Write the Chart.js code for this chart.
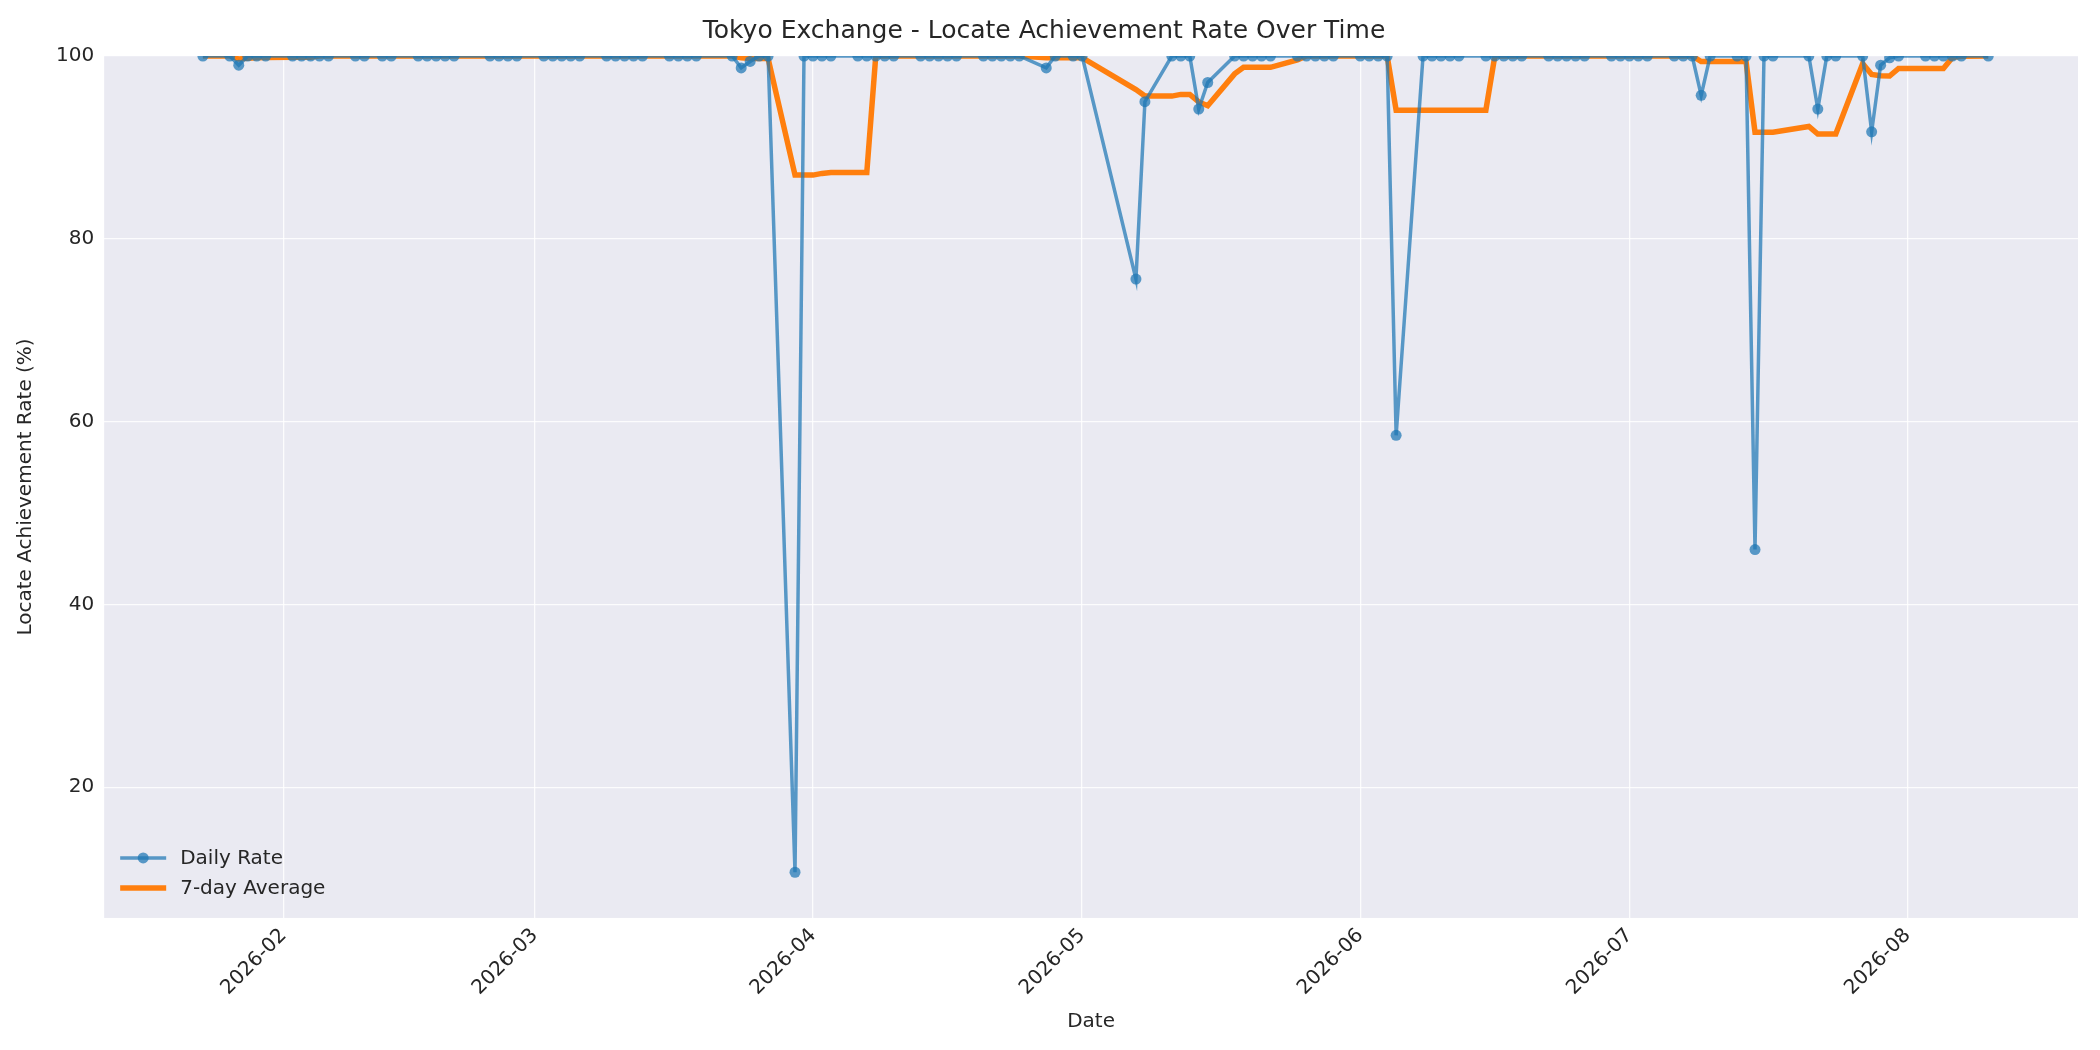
<!DOCTYPE html>
<html>
<head>
<meta charset="utf-8">
<script src="https://cdn.jsdelivr.net/npm/chart.js@4.4.1/dist/chart.umd.min.js"></script>
<style>
  html, body { margin: 0; padding: 0; background: #fff; }
  #wrap { width: 2100px; height: 1050px; }
</style>
</head>
<body>
<div id="wrap"><canvas id="chart"></canvas></div>
<script>
// Días hábiles con dato (Tokio), y la tasa diaria
const fechas = [
  '2026-01-23','2026-01-26','2026-01-27','2026-01-28','2026-01-29','2026-01-30',
  '2026-02-02','2026-02-03','2026-02-04','2026-02-05','2026-02-06','2026-02-09','2026-02-10','2026-02-12','2026-02-13',
  '2026-02-16','2026-02-17','2026-02-18','2026-02-19','2026-02-20','2026-02-24','2026-02-25','2026-02-26','2026-02-27',
  '2026-03-02','2026-03-03','2026-03-04','2026-03-05','2026-03-06','2026-03-09','2026-03-10','2026-03-11','2026-03-12','2026-03-13',
  '2026-03-16','2026-03-17','2026-03-18','2026-03-19','2026-03-23','2026-03-24','2026-03-25','2026-03-26','2026-03-27','2026-03-30','2026-03-31',
  '2026-04-01','2026-04-02','2026-04-03','2026-04-06','2026-04-07','2026-04-08','2026-04-09','2026-04-10','2026-04-13','2026-04-14',
  '2026-04-15','2026-04-16','2026-04-17','2026-04-20','2026-04-21','2026-04-22','2026-04-23','2026-04-24','2026-04-27','2026-04-28','2026-04-30',
  '2026-05-01','2026-05-07','2026-05-08','2026-05-11','2026-05-12','2026-05-13','2026-05-14','2026-05-15','2026-05-18',
  '2026-05-19','2026-05-20','2026-05-21','2026-05-22','2026-05-25','2026-05-26','2026-05-27','2026-05-28','2026-05-29',
  '2026-06-01','2026-06-02','2026-06-03','2026-06-04','2026-06-05','2026-06-08','2026-06-09','2026-06-10','2026-06-11','2026-06-12',
  '2026-06-15','2026-06-16','2026-06-17','2026-06-18','2026-06-19','2026-06-22','2026-06-23','2026-06-24','2026-06-25','2026-06-26','2026-06-29','2026-06-30',
  '2026-07-01','2026-07-02','2026-07-03','2026-07-06','2026-07-07','2026-07-08','2026-07-09','2026-07-10','2026-07-13','2026-07-14','2026-07-15',
  '2026-07-16','2026-07-17','2026-07-21','2026-07-22','2026-07-23','2026-07-24','2026-07-27','2026-07-28','2026-07-29','2026-07-30','2026-07-31',
  '2026-08-03','2026-08-04','2026-08-05','2026-08-06','2026-08-07','2026-08-10'
];
const tasaDiaria = [
  100,100,99.0,100,100,100,
  100,100,100,100,100,100,100,100,100,
  100,100,100,100,100,100,100,100,100,
  100,100,100,100,100,100,100,100,100,100,
  100,100,100,100,100,98.7,99.4,100,100,10.7,100,
  100,100,100,100,100,100,100,100,100,100,
  100,100,100,100,100,100,100,100,98.7,100,100,
  100,75.6,95.0,100,100,100,94.2,97.1,100,
  100,100,100,100,100,100,100,100,100,
  100,100,100,100,58.5,100,100,100,100,100,
  100,100,100,100,100,100,100,100,100,100,100,100,
  100,100,100,100,100,100,95.7,100,100,100,46.0,
  100,100,100,94.2,100,100,100,91.7,99.0,99.8,100,
  100,100,100,100,100,100
];
const marcasMes = ['2026-02-01','2026-03-01','2026-04-01','2026-05-01','2026-06-01','2026-07-01','2026-08-01'];
const marcasY = [20, 40, 60, 80, 100];
const VENTANA = 7;

const COLOR_DIARIA = 'rgba(31,119,180,0.72)';
const COLOR_PROMEDIO = '#ff7f0e';

const aMs = s => Date.parse(s + 'T00:00:00Z');

// Promedio móvil de 7 observaciones (con lo que haya al principio)
function promedioMovil(valores, n) {
  return valores.map((_, i) => {
    let desde = Math.max(0, i - n + 1);
    let trozo = valores.slice(desde, i + 1);
    return trozo.reduce((a, b) => a + b, 0) / trozo.length;
  });
}

const puntosDiarios = fechas.map((f, i) => ({ x: aMs(f), y: tasaDiaria[i] }));
const promedio = promedioMovil(tasaDiaria, VENTANA);
const puntosPromedio = fechas.map((f, i) => ({ x: aMs(f), y: promedio[i] }));

const fondoArea = {
  id: 'fondoArea',
  beforeDraw(chart) {
    const { ctx, chartArea: a } = chart;
    ctx.save();
    ctx.fillStyle = '#eaeaf2';
    ctx.fillRect(a.left, a.top, a.right - a.left, a.bottom - a.top);
    ctx.restore();
  }
};

// Leyenda adentro, abajo a la izquierda (como la de matplotlib)
const leyendaAdentro = {
  id: 'leyendaAdentro',
  afterDraw(chart) {
    const { ctx, chartArea: a } = chart;
    const items = [
      { txt: 'Daily Rate', color: COLOR_DIARIA, ancho: 3.5, punto: true },
      { txt: '7-day Average', color: COLOR_PROMEDIO, ancho: 5.5, punto: false }
    ];
    ctx.save();
    ctx.font = '20px "DejaVu Sans", sans-serif';
    ctx.textBaseline = 'middle';
    items.forEach((it, i) => {
      let y = a.bottom - 60 + i * 30;
      let x0 = a.left + 16;
      ctx.strokeStyle = it.color;
      ctx.lineWidth = it.ancho;
      ctx.beginPath(); ctx.moveTo(x0, y); ctx.lineTo(x0 + 46, y); ctx.stroke();
      if (it.punto) {
        ctx.fillStyle = it.color;
        ctx.beginPath(); ctx.arc(x0 + 23, y, 5.5, 0, Math.PI * 2); ctx.fill();
      }
      ctx.fillStyle = '#262626';
      ctx.fillText(it.txt, x0 + 60, y + 1);
    });
    ctx.restore();
  }
};

Chart.defaults.font.family = '"DejaVu Sans", sans-serif';
Chart.defaults.color = '#262626';

new Chart(document.getElementById('chart'), {
  type: 'line',
  data: {
    datasets: [
      {
        label: 'Daily Rate', data: puntosDiarios,
        borderColor: COLOR_DIARIA, backgroundColor: COLOR_DIARIA,
        borderWidth: 3.5, pointRadius: 5.5, pointBorderWidth: 0, tension: 0
      },
      {
        label: '7-day Average', data: puntosPromedio,
        borderColor: COLOR_PROMEDIO, backgroundColor: COLOR_PROMEDIO,
        borderWidth: 5.5, pointRadius: 0, tension: 0
      }
    ]
  },
  options: {
    responsive: true, maintainAspectRatio: false, animation: false,
    layout: { padding: { left: 10, right: 22, top: 4, bottom: 12 } },
    plugins: {
      legend: { display: false },
      tooltip: { enabled: false },
      title: {
        display: true, text: 'Tokyo Exchange - Locate Achievement Rate Over Time',
        font: { size: 25, weight: 'normal' }, color: '#262626', padding: { top: 12, bottom: 10 }
      }
    },
    scales: {
      x: {
        type: 'linear',
        min: aMs('2026-01-12'), max: aMs('2026-08-20'),
        afterBuildTicks: ax => { ax.ticks = marcasMes.map(m => ({ value: aMs(m) })); },
        ticks: {
          callback: v => new Date(v).toISOString().slice(0, 7),
          maxRotation: 45, minRotation: 45, font: { size: 20 }, padding: 6
        },
        grid: { color: 'rgba(255,255,255,0.85)', lineWidth: 1.3, drawTicks: false },
        border: { display: false },
        title: { display: true, text: 'Date', font: { size: 20 }, padding: { top: 4 } }
      },
      y: {
        min: 5.7, max: 100,
        afterBuildTicks: ax => { ax.ticks = marcasY.map(v => ({ value: v })); },
        ticks: { font: { size: 20 }, padding: 10 },
        grid: { color: 'rgba(255,255,255,0.85)', lineWidth: 1.3, drawTicks: false },
        border: { display: false },
        title: { display: true, text: 'Locate Achievement Rate (%)', font: { size: 20 }, padding: { bottom: 8 } }
      }
    }
  },
  plugins: [fondoArea, leyendaAdentro]
});
</script>
</body>
</html>
